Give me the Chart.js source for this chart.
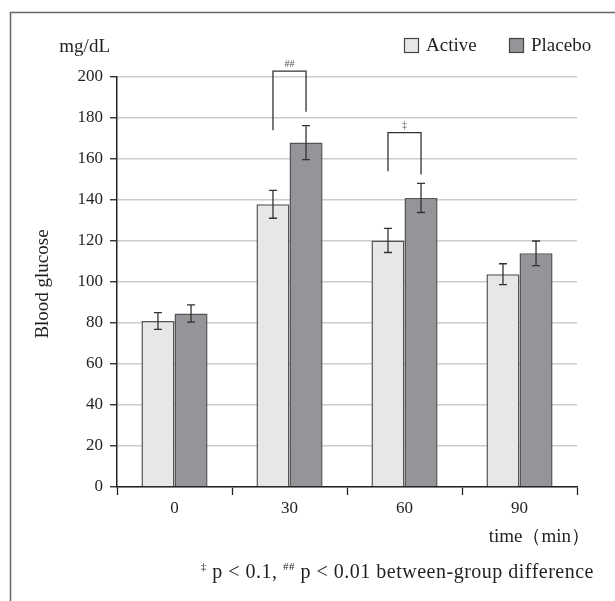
<!DOCTYPE html>
<html><head><meta charset="utf-8">
<script src="https://cdn.jsdelivr.net/npm/chart.js@4.4.0/dist/chart.umd.min.js"></script>
<style>html,body{margin:0;padding:0;background:#fff}canvas{display:block}</style>
</head><body>
<canvas id="c" width="615" height="601"></canvas>
<script>
// ---- data ----
const categories = ['0', '30', '60', '90'];
const seriesNames = ['Active', 'Placebo'];
const activeMean = [81.0, 137.9, 120.3, 103.8];
const activeSE = [4.1, 6.8, 5.9, 5.1];
const placeboMean = [84.6, 168.0, 141.0, 114.0];
const placeboSE = [4.2, 8.3, 7.1, 6.0];
const yMin = 0, yMax = 200, yStep = 20;
// significance brackets (category index, bracket top, left leg end, right leg end, label)
const sigIndex = [1, 2];
const sigTop = [202.9, 172.9];
const sigLeftEnd = [174.0, 154.0];
const sigRightEnd = [183.1, 152.5];
const sigLabel = ['##', '\u2021'];

const SERIF = '"Liberation Serif", "DejaVu Serif", serif';
const TXT = '#231f20';
const colors = ['#e6e7e9', '#939598'];

const errors = [activeSE, placeboSE];

const overlay = {
  id: 'overlay',
  afterDatasetsDraw(chart) {
    const ctx = chart.ctx, ys = chart.scales.y;
    ctx.save();
    ctx.strokeStyle = '#333';
    ctx.lineWidth = 1.3;
    chart.data.datasets.forEach((ds, i) => {
      const meta = chart.getDatasetMeta(i);
      meta.data.forEach((bar, j) => {
        const v = ds.data[j], e = errors[i][j];
        const x = bar.x, yt = ys.getPixelForValue(v + e), yb = ys.getPixelForValue(v - e);
        ctx.beginPath();
        ctx.moveTo(x, yt); ctx.lineTo(x, yb);
        ctx.moveTo(x - 4, yt); ctx.lineTo(x + 4, yt);
        ctx.moveTo(x - 4, yb); ctx.lineTo(x + 4, yb);
        ctx.stroke();
      });
    });
    // brackets
    const m0 = chart.getDatasetMeta(0), m1 = chart.getDatasetMeta(1);
    sigIndex.forEach((idx, k) => {
      const xl = m0.data[idx].x, xr = m1.data[idx].x;
      const yt = ys.getPixelForValue(sigTop[k]);
      ctx.strokeStyle = '#333';
      ctx.lineWidth = 1.3;
      ctx.beginPath();
      ctx.moveTo(xl, ys.getPixelForValue(sigLeftEnd[k]));
      ctx.lineTo(xl, yt);
      ctx.lineTo(xr, yt);
      ctx.lineTo(xr, ys.getPixelForValue(sigRightEnd[k]));
      ctx.stroke();
      ctx.fillStyle = '#555';
      ctx.font = '10px ' + SERIF;
      ctx.textAlign = 'center';
      ctx.textBaseline = 'middle';
      ctx.fillText(sigLabel[k], (xl + xr) / 2, yt - 7);
    });
    ctx.restore();
  },
  afterDraw(chart) {
    const ctx = chart.ctx;
    ctx.save();
    // outer frame
    ctx.strokeStyle = '#666';
    ctx.lineWidth = 1.5;
    ctx.strokeRect(10.5, 12.5, 700, 700);
    ctx.fillStyle = TXT;
    ctx.font = '19px ' + SERIF;
    ctx.textBaseline = 'middle';
    // unit
    ctx.textAlign = 'right';
    ctx.fillText('mg/dL', 110, 47.5);
    // legend
    const lx = [404, 509];
    seriesNames.forEach((n, i) => {
      ctx.fillStyle = colors[i];
      ctx.fillRect(lx[i] + 0.5, 38.5, 14, 14);
      ctx.strokeStyle = '#444';
      ctx.lineWidth = 1.2;
      ctx.strokeRect(lx[i] + 0.5, 38.5, 14, 14);
      ctx.fillStyle = TXT;
      ctx.textAlign = 'left';
      ctx.fillText(n, lx[i] + 22, 46);
    });
    // x title
    ctx.textAlign = 'right';
    ctx.fillText('time\uFF08min\uFF09', 590, 537);
    // y title
    ctx.save();
    ctx.translate(43, 284);
    ctx.rotate(-Math.PI / 2);
    ctx.textAlign = 'center';
    ctx.fillText('Blood glucose', 0, 0);
    ctx.restore();
    // footnote
    const parts = [
      {t: '\u2021', sup: true},
      {t: ' p < 0.1, ', sup: false},
      {t: '##', sup: true},
      {t: ' p < 0.01 between-group difference', sup: false}
    ];
    const fy = 573;
    ctx.letterSpacing = '0.5px';
    let total = 0;
    parts.forEach(p => {
      ctx.font = (p.sup ? '11px ' : '20px ') + SERIF;
      p.w = ctx.measureText(p.t).width;
      total += p.w;
    });
    let fx = 594 - total;
    ctx.textAlign = 'left';
    parts.forEach(p => {
      ctx.font = (p.sup ? '11px ' : '20px ') + SERIF;
      ctx.fillText(p.t, fx, p.sup ? fy - 6 : fy);
      fx += p.w;
    });
    ctx.restore();
  }
};

new Chart(document.getElementById('c'), {
  type: 'bar',
  data: {
    labels: categories,
    datasets: [
      {label: seriesNames[0], data: activeMean, backgroundColor: colors[0], borderColor: '#555', borderWidth: 1.5},
      {label: seriesNames[1], data: placeboMean, backgroundColor: colors[1], borderColor: '#555', borderWidth: 1.5}
    ]
  },
  options: {
    responsive: false,
    animation: false,
    devicePixelRatio: 1,
    layout: {padding: {top: 77, right: 38, left: 0, bottom: 0}},
    plugins: {legend: {display: false}, tooltip: {enabled: false}},
    datasets: {bar: {categoryPercentage: 0.575, barPercentage: 1.0}},
    scales: {
      x: {
        afterFit(s) { s.height = 114; },
        grid: {offset: true, drawOnChartArea: false, drawTicks: true, tickLength: 8, tickColor: '#222', tickWidth: 1.3},
        border: {display: true, color: '#222', width: 1.5},
        ticks: {font: {family: SERIF, size: 17}, color: TXT, padding: 3, maxRotation: 0}
      },
      y: {
        min: yMin, max: yMax,
        afterFit(s) { s.width = 117; },
        grid: {color: '#cccccc', lineWidth: 1.5, drawTicks: true, tickLength: 7, tickColor: '#222', tickWidth: 1.3},
        border: {display: true, color: '#222', width: 1.5},
        ticks: {stepSize: yStep, font: {family: SERIF, size: 17}, color: TXT, padding: 7}
      }
    }
  },
  plugins: [overlay]
});
</script>
</body></html>
